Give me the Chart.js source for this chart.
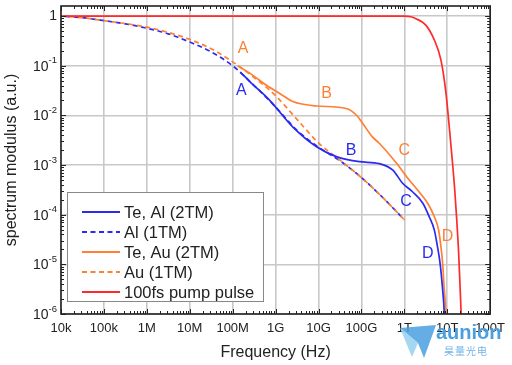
<!DOCTYPE html>
<html>
<head>
<meta charset="utf-8">
<script src="https://cdn.jsdelivr.net/npm/chart.js@4"></script>
<style>
  body { margin: 0; background: #fff; }
  #wrap { position: relative; width: 512px; height: 365px; }
  #mark { position: absolute; left: 398px; top: 321px; width: 114px; height: 40px; pointer-events: none; }
  #mark .en { position: absolute; left: 38px; top: 0px; font: bold 20px "Liberation Sans", Arial, sans-serif; color: #4a9fe0; }
  #mark .cn { position: absolute; left: 46px; top: 22px; font: 10px "Noto Sans CJK SC", sans-serif; color: #6fb3e6; letter-spacing: 1px; }
</style>
</head>
<body>
<div id="wrap">
  <canvas id="chart" width="512" height="365"></canvas>
  <div id="mark">
    <svg width="40" height="38" style="position:absolute;left:0;top:2px">
      <polygon points="2,5 38,2 26,35 20,20" fill="#4a9fe0" opacity="0.85"/>
      <polygon points="2,5 20,20 14,34" fill="#9bd3f2" opacity="0.9"/>
    </svg>
    <div class="en">aunion</div>
    <div class="cn">昊量光电</div>
  </div>
</div>
<script>
// frequency tick labels (decades 1e4 .. 1e14)
const freqLabels = ['10k', '100k', '1M', '10M', '100M', '1G', '10G', '100G', '1T', '10T', '100T'];

// Al (1TM)
const alFreq = [1e4, 3.16e4, 1e5, 3.16e5, 1e6, 3.16e6, 1e7, 3.16e7, 1e8, 3.16e8, 1e9, 3.16e9, 1e10, 3.16e10, 1e11, 3.16e11, 1e12];
const alVal  = [1.0, 0.93, 0.81, 0.70, 0.57, 0.44, 0.30, 0.19, 0.10, 0.040, 0.0148, 0.005, 0.0023, 0.00122, 5.6e-4, 2.2e-4, 7.9e-5];

// Au (1TM)
const auFreq = [1e4, 3.16e4, 1e5, 3.16e5, 1e6, 3.16e6, 1e7, 3.16e7, 1e8, 3.16e8, 1e9, 3.16e9, 1e10, 3.16e10, 1e11, 3.16e11, 1e12];
const auVal  = [1.0, 0.93, 0.81, 0.71, 0.60, 0.47, 0.34, 0.22, 0.12, 0.058, 0.025, 0.0083, 0.0028, 0.00126, 5.6e-4, 2.2e-4, 7.9e-5];

// Te, Al (2TM)
const teAlFreq = [1.5e8, 2.5e8, 7.2e8, 2.5e9, 9e9, 2.6e10, 9e10, 2.6e11, 5.4e11, 9.1e11, 1.55e12, 2.7e12, 3.8e12, 5.0e12, 5.9e12, 6.8e12, 7.8e12, 8.5e12, 8.7e12];
const teAlVal  = [0.075, 0.048, 0.0204, 0.0059, 0.00234, 0.00148, 0.00117, 0.00107, 7.9e-4, 4.3e-4, 2.9e-4, 1.7e-4, 9.1e-5, 4.9e-5, 2.3e-5, 1.05e-5, 3.1e-6, 1.05e-6, 5e-7];

// Te, Au (2TM)
const teAuFreq = [1.3e8, 2.5e8, 6e8, 1.5e9, 2.5e9, 9e9, 4.4e10, 7.6e10, 1.07e11, 1.8e11, 2.6e11, 6.5e11, 1.3e12, 2.2e12, 3.5e12, 5.0e12, 6.3e12, 7.1e12, 7.8e12, 8.5e12, 9.3e12, 9.5e12];
const teAuVal  = [0.1, 0.071, 0.041, 0.025, 0.019, 0.0155, 0.0138, 0.0102, 0.0069, 0.0037, 0.00275, 0.0011, 5.0e-4, 2.9e-4, 1.7e-4, 9.1e-5, 4.9e-5, 2.3e-5, 1.05e-5, 3.1e-6, 1.05e-6, 5e-7];

// 100fs pump pulse
const pulseFreq = [1e4, 1e12, 1.41e12, 1.86e12, 3.16e12, 5e12, 7.13e12, 9.33e12, 1.114e13, 1.307e13, 1.494e13, 1.663e13, 1.85e13, 2.0e13, 2.1e13, 2.15e13];
const pulseVal  = [1, 1, 0.97, 0.89, 0.66, 0.33, 0.130, 0.0282, 5.85e-3, 1.27e-3, 3.15e-4, 7.85e-5, 1.55e-5, 3.07e-6, 1.06e-6, 5e-7];

// A/B/C/D markers, in data coordinates
const marks = [
  { t: 'A', x: 1.74e8, y: 0.22,   c: '#ff7f33' },
  { t: 'A', x: 1.6e8,  y: 0.032,  c: '#2a2af0' },
  { t: 'B', x: 1.55e10, y: 0.0275, c: '#ff7f33' },
  { t: 'B', x: 5.75e10, y: 0.002, c: '#2a2af0' },
  { t: 'C', x: 1e12,   y: 0.002,  c: '#ff7f33' },
  { t: 'C', x: 1.1e12, y: 1.8e-4, c: '#2a2af0' },
  { t: 'D', x: 1.02e13, y: 3.6e-5, c: '#ff7f33' },
  { t: 'D', x: 3.5e12, y: 1.66e-5, c: '#2a2af0' }
];

const BLUE = '#2a2af0', ORANGE = '#ff7f33', RED = '#ff2a2a';
const FONT = '"Liberation Sans", Arial, sans-serif';

function pts(xs, ys) {
  return xs.map((x, i) => ({ x: x, y: ys[i] }));
}

const extras = {
  id: 'extras',
  afterDatasetsDraw(chart) {
    const ctx = chart.ctx;
    const a = chart.chartArea;
    const xs = chart.scales.x, ys = chart.scales.y;
    ctx.save();

    // A B C D labels
    ctx.font = '16px ' + FONT;
    ctx.textAlign = 'center';
    ctx.textBaseline = 'middle';
    marks.forEach(m => {
      ctx.fillStyle = m.c;
      ctx.fillText(m.t, xs.getPixelForValue(m.x), ys.getPixelForValue(m.y));
    });

    // inward ticks on all four sides
    ctx.strokeStyle = '#222';
    ctx.lineWidth = 1;
    ctx.beginPath();
    for (let e = 4; e <= 14; e++) {
      for (let k = 1; k <= 9; k++) {
        const v = k * Math.pow(10, e);
        if (v > 1e14) break;
        const px = Math.round(xs.getPixelForValue(v)) + 0.5;
        const len = k === 1 ? 5 : 3;
        ctx.moveTo(px, a.bottom); ctx.lineTo(px, a.bottom - len);
        ctx.moveTo(px, a.top); ctx.lineTo(px, a.top + len);
      }
    }
    for (let e = -6; e <= 0; e++) {
      for (let k = 1; k <= 9; k++) {
        const v = k * Math.pow(10, e);
        if (v > 1.6) break;
        const py = Math.round(ys.getPixelForValue(v)) + 0.5;
        const len = k === 1 ? 5 : 3;
        ctx.moveTo(a.left, py); ctx.lineTo(a.left + len, py);
        ctx.moveTo(a.right, py); ctx.lineTo(a.right - len, py);
      }
    }
    ctx.stroke();

    // frame
    ctx.lineWidth = 1.6;
    ctx.strokeStyle = '#222';
    ctx.strokeRect(a.left, a.top, a.right - a.left, a.bottom - a.top);

    // y tick labels with superscript exponent
    ctx.fillStyle = '#222';
    ctx.textBaseline = 'middle';
    ctx.textAlign = 'right';
    for (let e = 0; e >= -6; e--) {
      const py = ys.getPixelForValue(Math.pow(10, e));
      const rx = a.left - 4;
      if (e === 0) {
        ctx.font = '14px ' + FONT;
        ctx.fillText('1', rx, py);
      } else {
        ctx.font = '9.5px ' + FONT;
        const sup = String(e);
        const w = ctx.measureText(sup).width;
        ctx.fillText(sup, rx, py - 5);
        ctx.font = '14px ' + FONT;
        ctx.fillText('10', rx - w, py + 1);
      }
    }

    // legend box
    const lx = 67, ly = 192, lw = 196, lh = 109;
    ctx.fillStyle = '#fff';
    ctx.fillRect(lx, ly, lw, lh);
    ctx.lineWidth = 1;
    ctx.strokeStyle = '#888';
    ctx.strokeRect(lx + 0.5, ly + 0.5, lw, lh);
    ctx.textAlign = 'left';
    ctx.font = '16.5px ' + FONT;
    chart.data.datasets.forEach((d, i) => {
      const y = 212 + i * 20;
      ctx.strokeStyle = d.borderColor;
      ctx.lineWidth = 1.8;
      ctx.setLineDash(d.borderDash || []);
      ctx.beginPath();
      ctx.moveTo(82, y); ctx.lineTo(120, y);
      ctx.stroke();
      ctx.setLineDash([]);
      ctx.fillStyle = '#222';
      ctx.fillText(d.label, 124, y + 1);
    });
    ctx.restore();
  }
};

new Chart(document.getElementById('chart'), {
  type: 'line',
  data: {
    datasets: [
      { label: 'Te, Al (2TM)', data: pts(teAlFreq, teAlVal), borderColor: BLUE, order: 2 },
      { label: 'Al (1TM)', data: pts(alFreq, alVal), borderColor: BLUE, borderDash: [5, 3.5], borderDashOffset: 4.25, order: 4 },
      { label: 'Te, Au (2TM)', data: pts(teAuFreq, teAuVal), borderColor: ORANGE, order: 3 },
      { label: 'Au (1TM)', data: pts(auFreq, auVal), borderColor: ORANGE, borderDash: [5, 3.5], order: 3 },
      { label: '100fs pump pulse', data: pts(pulseFreq, pulseVal), borderColor: RED, order: 1 }
    ]
  },
  options: {
    responsive: false,
    animation: false,
    layout: { padding: { top: 6, right: 21, left: 0, bottom: 0 } },
    elements: {
      point: { radius: 0 },
      line: { borderWidth: 1.7, cubicInterpolationMode: 'monotone', fill: false }
    },
    plugins: { legend: { display: false }, tooltip: { enabled: false } },
    scales: {
      x: {
        type: 'logarithmic',
        min: 1e4,
        max: 1e14,
        afterBuildTicks: s => { s.ticks = freqLabels.map((_, i) => ({ value: Math.pow(10, 4 + i) })); },
        afterFit: s => { s.height = 51; },
        ticks: {
          autoSkip: false,
          maxRotation: 0,
          padding: 7,
          color: '#222',
          font: { family: FONT, size: 13 },
          callback: (v, i) => freqLabels[i]
        },
        grid: { color: '#c8c8c8', lineWidth: 1.6, drawTicks: false },
        border: { display: false },
        title: { display: true, text: 'Frequency (Hz)', color: '#222', font: { family: FONT, size: 16 }, padding: { top: 0, bottom: 3 } }
      },
      y: {
        type: 'logarithmic',
        min: 1e-6,
        max: 1.6,
        afterBuildTicks: s => {
          const t = [];
          for (let e = -6; e <= 0; e++) t.push({ value: Math.pow(10, e) });
          s.ticks = t;
        },
        afterFit: s => { s.width = 61; },
        ticks: { display: false },
        grid: { color: '#c8c8c8', lineWidth: 1.6, drawTicks: false },
        border: { display: false },
        title: { display: true, text: 'spectrum modulus (a.u.)', color: '#222', font: { family: FONT, size: 16 }, padding: { top: 2, bottom: 0 } }
      }
    }
  },
  plugins: [extras]
});
</script>
</body>
</html>
